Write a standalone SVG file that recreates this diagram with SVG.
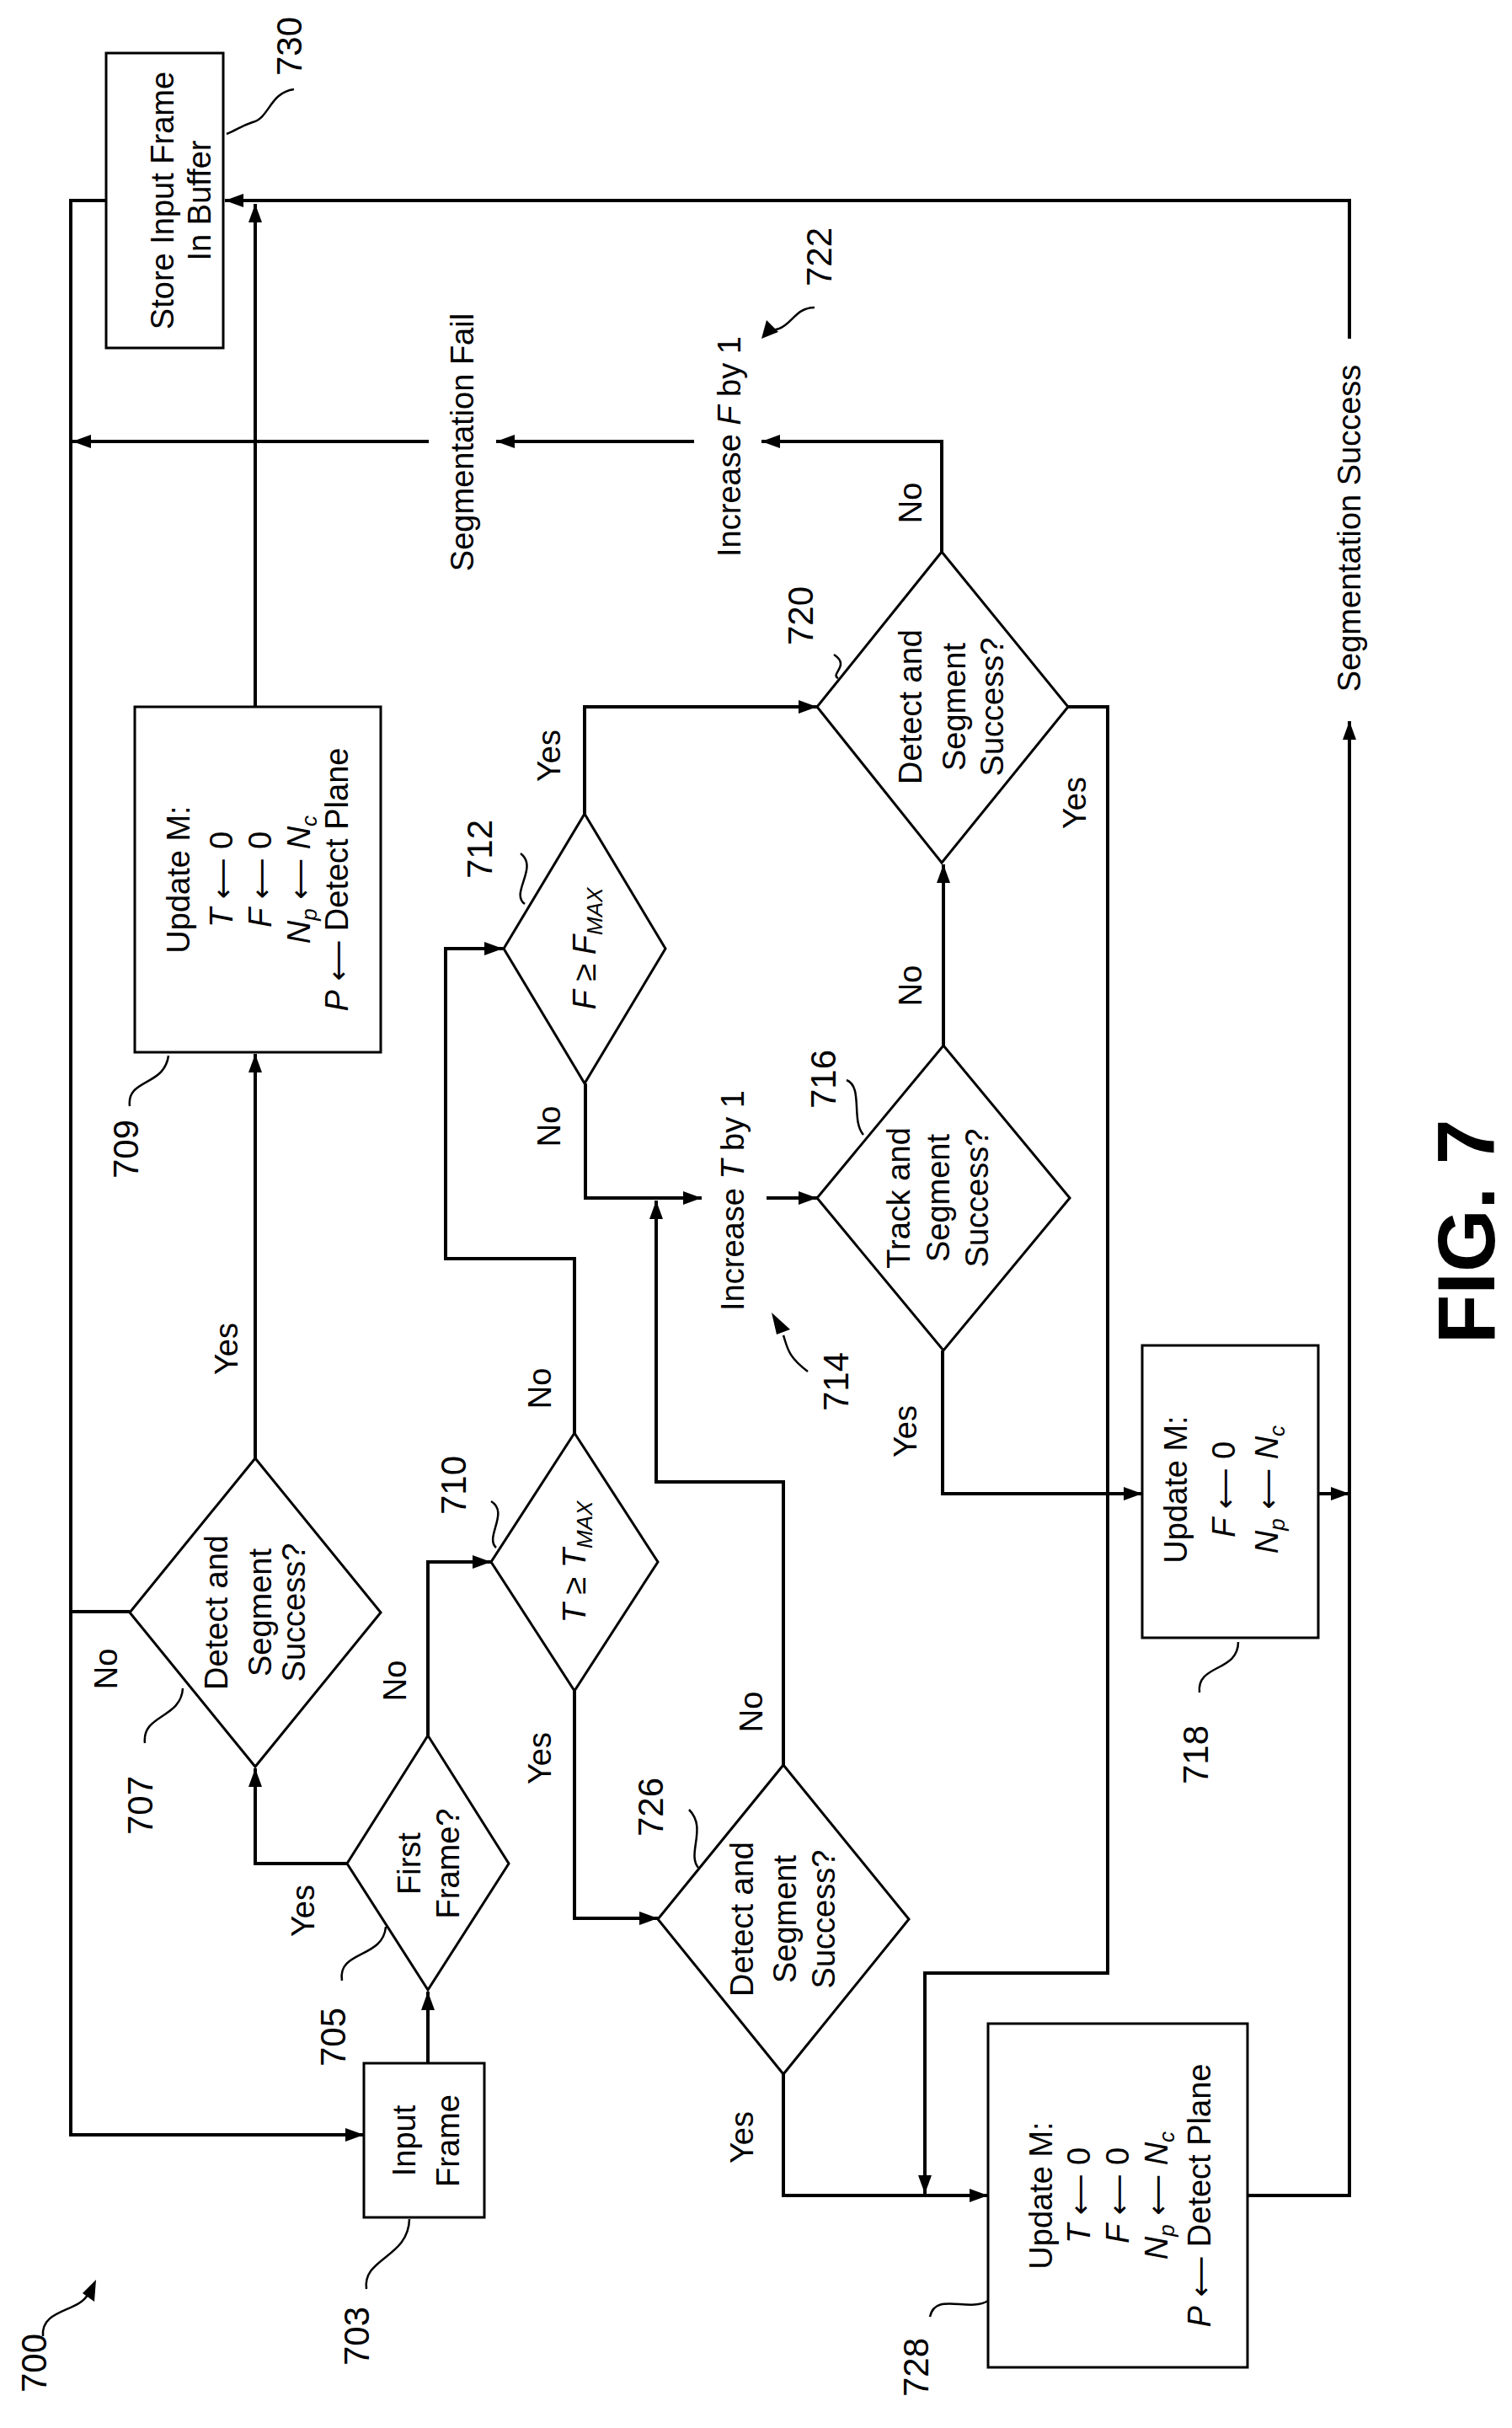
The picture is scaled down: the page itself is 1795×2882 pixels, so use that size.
<svg xmlns="http://www.w3.org/2000/svg" width="1795" height="2882" viewBox="0 0 1795 2882">
<style>
text{font-family:"Liberation Sans",Arial,sans-serif;font-size:38px;fill:#000;text-anchor:middle}
.lbl{font-size:42px}
.fig{font-size:96px;font-weight:bold}
.ar{font-family:"DejaVu Sans",sans-serif;font-size:34px}
.shape{fill:#fff;stroke:#000;stroke-width:3}
.conn path{fill:none;stroke:#000;stroke-width:4}
.lead{fill:none;stroke:#000;stroke-width:2.5}
</style>
<defs>
<marker id="ah" markerUnits="userSpaceOnUse" markerWidth="24" markerHeight="20" refX="22" refY="10" orient="auto"><path d="M0,2 L22,10 L0,18 Z" fill="#000"/></marker>
</defs>
<g id="n730"><rect class="shape" x="126" y="63" width="139" height="350"/>
<text transform="translate(206,238) rotate(-90)">Store Input Frame</text><text transform="translate(250,238) rotate(-90)">In Buffer</text></g>
<g id="n709"><rect class="shape" x="160" y="839" width="292" height="410"/>
<text transform="translate(225,1044) rotate(-90)">Update M:</text>
<text transform="translate(276,1044) rotate(-90)"><tspan font-style="italic">T</tspan> <tspan class="ar">⟵</tspan> 0</text>
<text transform="translate(322,1044) rotate(-90)"><tspan font-style="italic">F</tspan> <tspan class="ar">⟵</tspan> 0</text>
<text transform="translate(368,1044) rotate(-90)"><tspan font-style="italic">N</tspan><tspan font-style="italic" font-size="26" dy="8">p</tspan><tspan dy="-8"> </tspan><tspan class="ar">⟵</tspan> <tspan font-style="italic">N</tspan><tspan font-style="italic" font-size="26" dy="8">c</tspan></text>
<text transform="translate(413,1044) rotate(-90)"><tspan font-style="italic">P</tspan> <tspan class="ar">⟵</tspan> Detect Plane</text></g>
<g id="n707"><path class="shape" d="M303,1731 L452,1914 L303,2097 L154,1914 Z"/>
<text transform="translate(270,1914) rotate(-90)">Detect and</text><text transform="translate(322,1914) rotate(-90)">Segment</text><text transform="translate(362,1914) rotate(-90)">Success?</text></g>
<g id="n705"><path class="shape" d="M508,2060 L604,2212 L508,2362 L412,2212 Z"/>
<text transform="translate(499,2212) rotate(-90)">First</text><text transform="translate(545,2212) rotate(-90)">Frame?</text></g>
<g id="n703"><rect class="shape" x="432" y="2449" width="143" height="183"/>
<text transform="translate(493,2541) rotate(-90)">Input</text><text transform="translate(545,2541) rotate(-90)">Frame</text></g>
<g id="n710"><path class="shape" d="M682,1701 L781,1854 L682,2007 L583,1854 Z"/>
<text transform="translate(695,1854) rotate(-90)"><tspan font-style="italic">T</tspan> ≥ <tspan font-style="italic">T</tspan><tspan font-style="italic" font-size="26" dy="8">MAX</tspan></text></g>
<g id="n712"><path class="shape" d="M694,966 L790,1126 L694,1286 L598,1126 Z"/>
<text transform="translate(707,1126) rotate(-90)"><tspan font-style="italic">F</tspan> ≥ <tspan font-style="italic">F</tspan><tspan font-style="italic" font-size="26" dy="8">MAX</tspan></text></g>
<g id="n726"><path class="shape" d="M930,2095 L1079,2278 L930,2462 L781,2278 Z"/>
<text transform="translate(894,2278) rotate(-90)">Detect and</text><text transform="translate(945,2278) rotate(-90)">Segment</text><text transform="translate(991,2278) rotate(-90)">Success?</text></g>
<g id="n716"><path class="shape" d="M1120,1241 L1270,1422 L1120,1603 L970,1422 Z"/>
<text transform="translate(1080,1422) rotate(-90)">Track and</text><text transform="translate(1127,1422) rotate(-90)">Segment</text><text transform="translate(1173,1422) rotate(-90)">Success?</text></g>
<g id="n720"><path class="shape" d="M1118,655 L1268,839 L1118,1024 L970,839 Z"/>
<text transform="translate(1094,839) rotate(-90)">Detect and</text><text transform="translate(1146,839) rotate(-90)">Segment</text><text transform="translate(1191,839) rotate(-90)">Success?</text></g>
<g id="n718"><rect class="shape" x="1356" y="1597" width="209" height="347"/>
<text transform="translate(1409,1768) rotate(-90)">Update M:</text>
<text transform="translate(1466,1768) rotate(-90)"><tspan font-style="italic">F</tspan> <tspan class="ar">⟵</tspan> 0</text>
<text transform="translate(1517,1768) rotate(-90)"><tspan font-style="italic">N</tspan><tspan font-style="italic" font-size="26" dy="8">p</tspan><tspan dy="-8"> </tspan><tspan class="ar">⟵</tspan> <tspan font-style="italic">N</tspan><tspan font-style="italic" font-size="26" dy="8">c</tspan></text></g>
<g id="n728"><rect class="shape" x="1173" y="2402" width="308" height="408"/>
<text transform="translate(1249,2606) rotate(-90)">Update M:</text>
<text transform="translate(1294,2606) rotate(-90)"><tspan font-style="italic">T</tspan> <tspan class="ar">⟵</tspan> 0</text>
<text transform="translate(1340,2606) rotate(-90)"><tspan font-style="italic">F</tspan> <tspan class="ar">⟵</tspan> 0</text>
<text transform="translate(1386,2606) rotate(-90)"><tspan font-style="italic">N</tspan><tspan font-style="italic" font-size="26" dy="8">p</tspan><tspan dy="-8"> </tspan><tspan class="ar">⟵</tspan> <tspan font-style="italic">N</tspan><tspan font-style="italic" font-size="26" dy="8">c</tspan></text>
<text transform="translate(1437,2606) rotate(-90)"><tspan font-style="italic">P</tspan> <tspan class="ar">⟵</tspan> Detect Plane</text></g>
<g id="connectors" class="conn">
<path d="M126,238 H84 V2534 H432" marker-end="url(#ah)"/>
<path d="M154,1913 H84"/>
<path d="M509,524 H86" marker-end="url(#ah)"/>
<path d="M824,524 H589" marker-end="url(#ah)"/>
<path d="M1118,655 V524 H904" marker-end="url(#ah)"/>
<path d="M1602,402 V238 H267" marker-end="url(#ah)"/>
<path d="M1481,2606 H1602 V856" marker-end="url(#ah)"/>
<path d="M1565,1773 H1602" marker-end="url(#ah)"/>
<path d="M303,839 V242" marker-end="url(#ah)"/>
<path d="M303,1731 V1251" marker-end="url(#ah)"/>
<path d="M412,2212 H303 V2099" marker-end="url(#ah)"/>
<path d="M508,2449 V2364" marker-end="url(#ah)"/>
<path d="M508,2060 V1854 H583" marker-end="url(#ah)"/>
<path d="M682,1701 V1494 H529 V1126 H597" marker-end="url(#ah)"/>
<path d="M694,966 V839 H970" marker-end="url(#ah)"/>
<path d="M695,1286 V1422 H833" marker-end="url(#ah)"/>
<path d="M910,1422 H970" marker-end="url(#ah)"/>
<path d="M930,2095 V1759 H779 V1425" marker-end="url(#ah)"/>
<path d="M682,2007 V2277 H781" marker-end="url(#ah)"/>
<path d="M930,2462 V2606 H1173" marker-end="url(#ah)"/>
<path d="M1268,839 H1315 V2342 H1098 V2604" marker-end="url(#ah)"/>
<path d="M1120,1241 V1026" marker-end="url(#ah)"/>
<path d="M1119,1603 V1773 H1356" marker-end="url(#ah)"/>
</g>
<g id="labels">
<text transform="translate(1615,627) rotate(-90)">Segmentation Success</text>
<text transform="translate(562,525) rotate(-90)">Segmentation Fail</text>
<text transform="translate(879,530) rotate(-90)">Increase <tspan font-style="italic">F</tspan> by 1</text>
<text transform="translate(883,1425) rotate(-90)">Increase <tspan font-style="italic">T</tspan> by 1</text>
<text transform="translate(665,897) rotate(-90)">Yes</text>
<text transform="translate(665,1337) rotate(-90)">No</text>
<text transform="translate(1094,597) rotate(-90)">No</text>
<text transform="translate(1289,953) rotate(-90)">Yes</text>
<text transform="translate(1094,1170) rotate(-90)">No</text>
<text transform="translate(1088,1699) rotate(-90)">Yes</text>
<text transform="translate(282,1601) rotate(-90)">Yes</text>
<text transform="translate(139,1981) rotate(-90)">No</text>
<text transform="translate(373,2268) rotate(-90)">Yes</text>
<text transform="translate(482,1995) rotate(-90)">No</text>
<text transform="translate(654,1648) rotate(-90)">No</text>
<text transform="translate(654,2087) rotate(-90)">Yes</text>
<text transform="translate(905,2032) rotate(-90)">No</text>
<text transform="translate(894,2537) rotate(-90)">Yes</text>
<text class="fig" transform="translate(1774,1462) rotate(-90)">FIG. 7</text>
</g>
<g id="refs">
<text class="lbl" transform="translate(358,55) rotate(-90)">730</text>
<path class="lead" d="M349,106 C320,110 320,140 300,145 C285,150 280,155 269,159"/>
<text class="lbl" transform="translate(987,305) rotate(-90)">722</text>
<path class="lead" d="M967,365 C945,365 940,385 925,390 L915,393"/>
<path d="M904,402 L910,380 L924,394 Z" fill="#000"/>
<text class="lbl" transform="translate(164,1364) rotate(-90)">709</text>
<path class="lead" d="M154,1313 C150,1280 195,1290 200,1253"/>
<text class="lbl" transform="translate(584,1008) rotate(-90)">712</text>
<path class="lead" d="M618,1013 C640,1030 605,1060 623,1073"/>
<text class="lbl" transform="translate(965,731) rotate(-90)">720</text>
<path class="lead" d="M990,777 C1010,790 985,800 995,805"/>
<text class="lbl" transform="translate(992,1281) rotate(-90)">716</text>
<path class="lead" d="M1005,1282 C1025,1290 1010,1330 1025,1347"/>
<text class="lbl" transform="translate(1007,1640) rotate(-90)">714</text>
<path class="lead" d="M959,1628 C935,1610 935,1600 930,1585"/>
<path d="M916,1558 L938,1578 L922,1584 Z" fill="#000"/>
<text class="lbl" transform="translate(1434,2083) rotate(-90)">718</text>
<path class="lead" d="M1424,2009 C1420,1975 1470,1985 1470,1949"/>
<text class="lbl" transform="translate(181,2143) rotate(-90)">707</text>
<path class="lead" d="M172,2069 C168,2035 215,2040 217,2004"/>
<text class="lbl" transform="translate(410,2418) rotate(-90)">705</text>
<path class="lead" d="M406,2351 C400,2315 455,2325 458,2287"/>
<text class="lbl" transform="translate(438,2773) rotate(-90)">703</text>
<path class="lead" d="M435,2717 C430,2680 485,2680 486,2634"/>
<text class="lbl" transform="translate(55,2805) rotate(-90)">700</text>
<path class="lead" d="M51,2773 C48,2740 95,2745 105,2722"/>
<path d="M114,2706 L112,2732 L98,2722 Z" fill="#000"/>
<text class="lbl" transform="translate(787,2145) rotate(-90)">726</text>
<path class="lead" d="M818,2148 C840,2170 815,2200 829,2217"/>
<text class="lbl" transform="translate(1102,2810) rotate(-90)">728</text>
<path class="lead" d="M1104,2750 C1110,2720 1150,2745 1173,2731"/>
<text class="lbl" transform="translate(553,1763) rotate(-90)">710</text>
<path class="lead" d="M583,1782 C605,1795 575,1825 589,1837"/>
</g>
</svg>
